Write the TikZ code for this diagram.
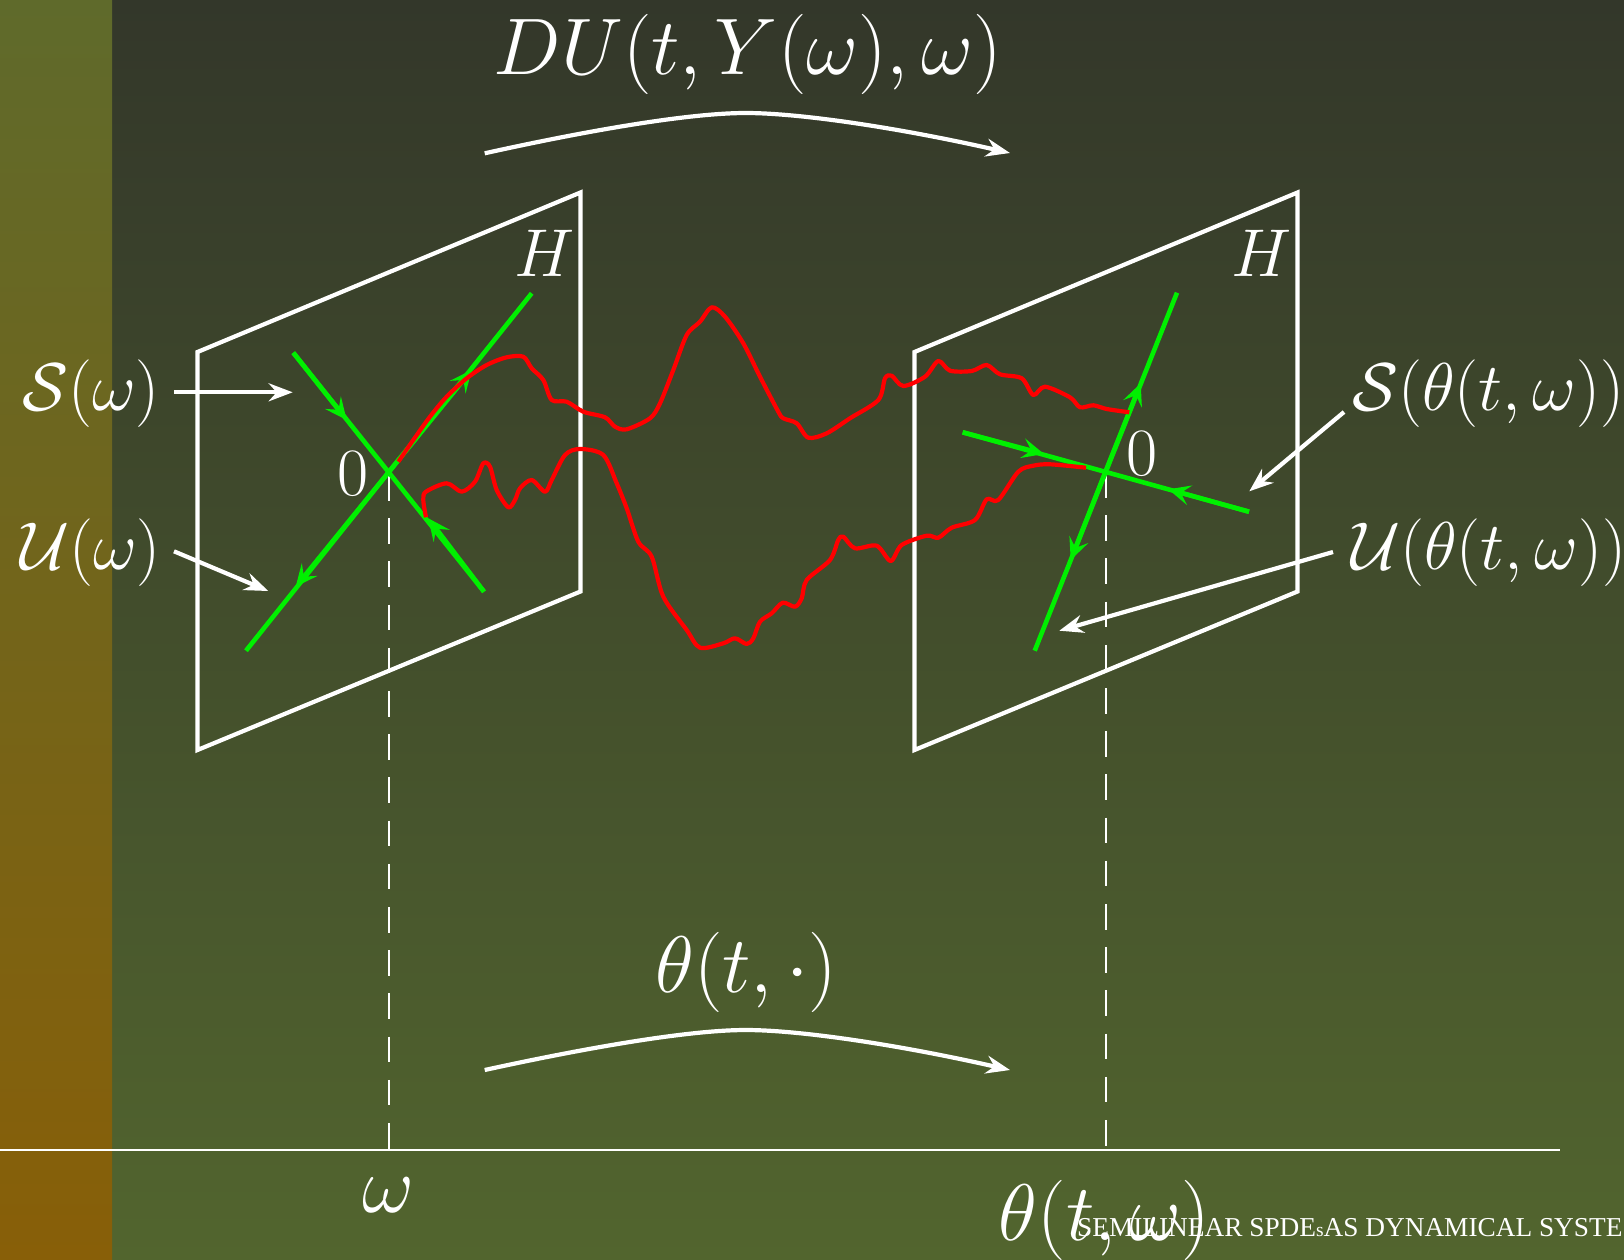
\documentclass[tikz,border=0pt]{standalone}
\usepackage[no-math]{fontspec}
\newfontfamily\footfont{Liberation Serif}
\usetikzlibrary{arrows.meta}
\definecolor{panelTop}{HTML}{33372A}
\definecolor{panelBot}{HTML}{52652E}
\definecolor{stripTop}{HTML}{5F6A2B}
\definecolor{stripBot}{HTML}{885F08}
\definecolor{sgreen}{HTML}{00F000}
\tikzset{
  wline/.style={draw=white,line width=4.2pt},
  warrow/.style={wline,-{Stealth[length=24pt,width=18pt,inset=8pt]}},
  gline/.style={draw=sgreen,line width=4.6pt},
  garrow/.style={gline,-{Stealth[length=22pt,width=20pt,inset=9pt]}},
  rline/.style={draw=red,line width=4.2pt,line join=round},
  dline/.style={draw=white,line width=2.7pt,dash pattern=on 25.5pt off 17.7pt},
  axisline/.style={draw=white,line width=2.7pt},
  lab/.style={text=white,inner sep=0pt,anchor=base,font=\Huge,scale=2.72},
  labbig/.style={lab,scale=1.186},
  foot/.style={text=white,inner sep=0pt,anchor=base west,font=\footfont\fontsize{27.3}{30}\selectfont},
}
\begin{document}
\begin{tikzpicture}[x=1pt,y=-1pt]
\useasboundingbox (0,0) rectangle (1624,1260);
\clip (0,0) rectangle (1624,1260);
\shade[top color=panelTop,bottom color=panelBot] (0,0) rectangle (1624,1260);
\shade[top color=stripTop,bottom color=stripBot] (0,0) rectangle (112,1260);

% frames
\draw[wline,line join=miter] (197.5,750) -- (197.5,352) -- (580.5,192.5) -- (580.5,591.5) -- cycle;
\draw[wline,line join=miter] (914.5,750) -- (914.5,352) -- (1297.5,192.5) -- (1297.5,591.5) -- cycle;

% axis and fibres
\coordinate (axL) at (0,1150);
\coordinate (axR) at (1560,1150);
\coordinate (fibL) at (389,475);
\coordinate (fibLb) at (389,1150);
\coordinate (fibR) at (1106,472);
\coordinate (fibRb) at (1106,1150);
\draw[axisline] (axL) -- (axR);
\draw[dline] (fibL) -- (fibLb);
\draw[dline] (fibR) -- (fibRb);

% green manifolds, left
\coordinate (cL) at (389,471.7);
\coordinate (aStart) at (293.3,352.7);
\coordinate (aTip) at (346.7,420);
\coordinate (aEnd) at (484,591.7);
\coordinate (aTip2) at (428.3,518.3);
\coordinate (bEnd) at (531.7,293.3);
\coordinate (bTip) at (471.7,370);
\coordinate (bLow) at (246,650.7);
\coordinate (bTip2) at (295.7,586.7);
\draw[gline] (aStart) -- (aEnd);
\draw[gline] (bEnd) -- (bLow);
\draw[garrow] (aStart) -- (aTip);
\draw[garrow] (aEnd) -- (aTip2);
\draw[garrow] (cL) -- (bTip);
\draw[garrow] (cL) -- (bTip2);

% green manifolds, right
\coordinate (cR) at (1105.7,471);
\coordinate (cStart) at (962.7,432.3);
\coordinate (cTip) at (1044,454);
\coordinate (cEnd) at (1249,511.7);
\coordinate (cTip2) at (1168.3,489.3);
\coordinate (dEnd) at (1177,292.7);
\coordinate (dTip) at (1140.7,383.3);
\coordinate (dLow) at (1034.7,650.7);
\coordinate (dTip2) at (1070.7,560);
\draw[gline] (cStart) -- (cEnd);
\draw[gline] (dEnd) -- (dLow);
\draw[garrow] (cStart) -- (cTip);
\draw[garrow] (cEnd) -- (cTip2);
\draw[garrow] (cR) -- (dTip);
\draw[garrow] (cR) -- (dTip2);

% red trajectories
\draw[rline] plot[smooth,tension=0.5] coordinates {
(398.3,461.7)(413.3,440)(430,416.7)(446.7,396.7)(466.7,378.3)(486.7,365)(506.7,357.3)(523.3,356.7)
(531.7,368.3)(543.3,380)(551.7,400)(566.7,401.7)(583.3,411.7)(605,417.3)(615,426.7)(626.7,429.3)
(650,418.3)(660,403.3)(673.3,370)(686.7,335)(700,321.7)(711.7,307.3)(725,316.7)(743.3,343.3)
(760,376.7)(778.3,411.7)(783.3,418.3)(796.7,423.3)(808.3,437.7)(826.7,433.3)(850,418.3)(878.3,400)
(885,378.3)(891.7,375.7)(903.3,386)(925,376.7)(938.3,361)(950,370.7)(971.7,371)(986.7,365)
(1000,374.3)(1021.7,378.3)(1033.3,395)(1045,386.7)(1070,397.3)(1080,407.3)(1093.3,405.3)(1106.7,409)(1129.3,412.3)};
\draw[rline] plot[smooth,tension=0.5] coordinates {
(426,517.3)(423.3,500)(426,491.7)(446.7,483.3)(461.7,491.7)(475,481.7)(483.3,463.3)(490,466.7)
(496.7,490)(508.3,507.3)(515,500)(520,488.3)(531.7,480)(545,491.7)(551.7,480)(565,455)(580,449)
(603.3,455)(616.7,483.3)(626.7,508.3)(638.3,541.7)(651.7,556.7)(663.3,596.7)(686.7,630)(700,647.7)
(723.3,643.3)(735,638.3)(746.7,644)(753.3,638.3)(760,621.7)(771.7,613.3)(782.7,602.7)(795,606.7)
(801.7,598.3)(806.7,580)(830,560)(838.3,540)(843.3,536.7)(855,548.3)(876.7,545.7)(890.7,561)
(901.7,545)(926.7,535.7)(938.3,537.7)(951.7,527.7)(975,520)(986.7,499.3)(998.3,500)(1018.3,471.7)
(1033.3,465.7)(1050,464.3)(1086,467.7)};

% white pointers
\coordinate (sFrom) at (174,392.3);
\coordinate (sTo) at (292.7,392.3);
\coordinate (uFrom) at (174,551.3);
\coordinate (uTo) at (268.3,591);
\coordinate (stFrom) at (1344,412);
\coordinate (stTo) at (1249.3,491.3);
\coordinate (utFrom) at (1333,552);
\coordinate (utTo) at (1059.3,630.7);
\draw[warrow] (sFrom) -- (sTo);
\draw[warrow] (uFrom) -- (uTo);
\draw[warrow] (stFrom) -- (stTo);
\draw[warrow] (utFrom) -- (utTo);

% curved arrows
\coordinate (tA) at (484.7,153.3);
\coordinate (tM) at (745.7,113);
\coordinate (tB) at (1010,153);
\coordinate (lA) at (484.7,1070);
\coordinate (lM) at (745.7,1030);
\coordinate (lB) at (1010,1070);
\draw[warrow] (tA) .. controls (590,130) and (690,113) .. (tM) .. controls (800,113) and (900,128) .. (tB);
\draw[warrow] (lA) .. controls (590,1047) and (690,1030) .. (lM) .. controls (800,1030) and (900,1045) .. (lB);

% labels
\node[labbig] (top) at (748,74.6) {$DU(t,Y(\omega),\omega)$};
\node[labbig] (flow) at (746,992) {$\theta(t,\cdot)$};
\node[lab] (h1) at (545,276) {$H$};
\node[lab] (h2) at (1262,276) {$H$};
\node[lab] (z1) at (353,495) {$0$};
\node[lab] (z2) at (1141.7,475) {$0$};
\node[lab] (s1) at (91,410) {$\mathcal{S}(\omega)$};
\node[lab] (u1) at (90.5,569.5) {$\mathcal{U}(\omega)$};
\node[lab] (s2) at (1488,410) {$\mathcal{S}(\theta(t,\omega))$};
\node[lab] (u2) at (1488.5,569.5) {$\mathcal{U}(\theta(t,\omega))$};
\node[labbig] (om) at (388.5,1212) {$\omega$};
\node[labbig] (thom) at (1104.5,1240) {$\theta(t,\omega)$};
\node[foot] (ft) at (1077,1236) {SEMILINEAR SPDE{\fontsize{19.5}{22}\selectfont s}AS DYNAMICAL SYSTE};
\end{tikzpicture}
\end{document}
